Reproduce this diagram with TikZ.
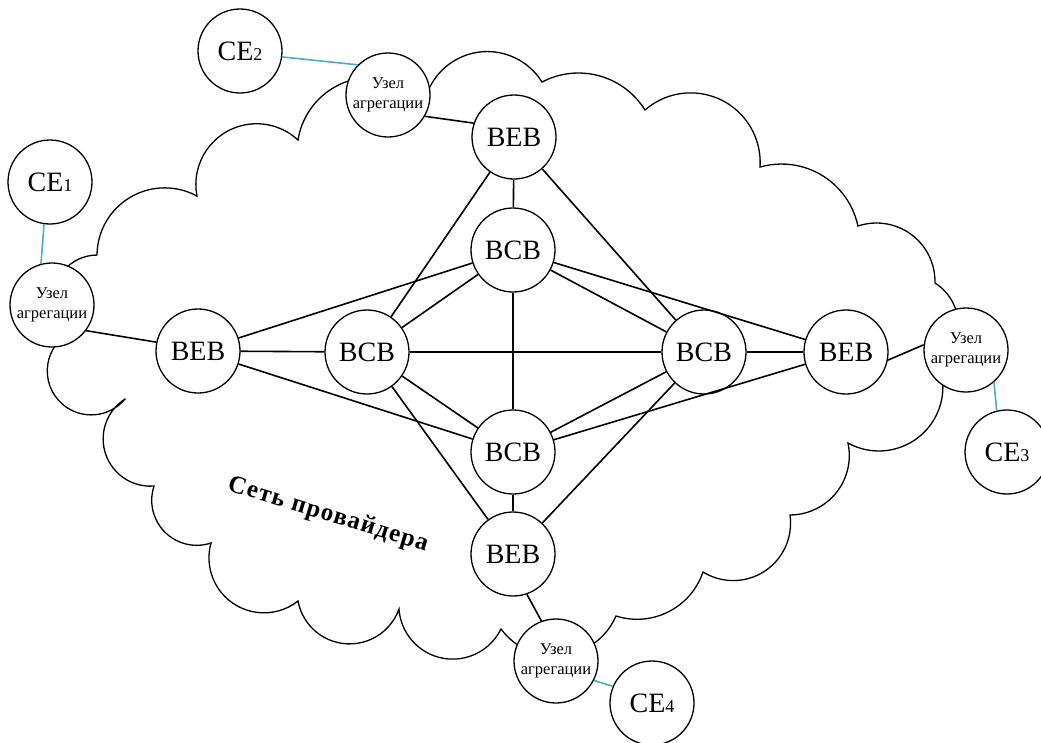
\documentclass[tikz,border=0pt]{standalone}
\usepackage{fontspec}
\setmainfont{Liberation Serif}
\usetikzlibrary{calc}
\definecolor{linkblue}{RGB}{75,172,198}

% one cloud lobe: circular arc from #1 to #2 sweeping #3 degrees, bulging outward
\newcommand\lobe[3]{%
  let \p1=(#1), \p2=(#2),
      \n1={atan2(\y2-\y1,\x2-\x1)},
      \n2={veclen(\x2-\x1,\y2-\y1)/(2*sin(#3/2))}
  in arc[start angle=\n1+90+#3/2, delta angle=-#3, radius=\n2]}

\tikzset{
  net/.style={circle, draw, fill=white, minimum size=84pt, inner sep=0pt,
              line width=1.3pt, font=\fontsize{28}{32}\selectfont},
  agg/.style={net, align=center, font=\fontsize{16.5}{20.5}\selectfont},
  link/.style={line width=1.6pt},
  uplink/.style={line width=1.6pt, draw=linkblue},
  cloudline/.style={line width=1.3pt, line join=miter},
}
\newcommand\cesub[1]{{\fontsize{18}{20}\selectfont #1}}

\begin{document}
\begin{tikzpicture}[x=1pt, y=1pt]
\useasboundingbox (0,0) rectangle (1041,-742);

% cusps of the provider cloud, clockwise
\coordinate (c1)  at (125,-399);
\coordinate (c2)  at (69,-333);
\coordinate (c3)  at (97,-255);
\coordinate (c4)  at (197,-196);
\coordinate (c5)  at (298,-140);
\coordinate (c6)  at (425,-100);
\coordinate (c7)  at (542,-82);
\coordinate (c8)  at (645,-110);
\coordinate (c9)  at (760,-167);
\coordinate (c10) at (858,-226);
\coordinate (c11) at (935,-283);
\coordinate (c12) at (939,-365);
\coordinate (c13) at (848,-443);
\coordinate (c14) at (790,-515);
\coordinate (c15) at (703,-572);
\coordinate (c16) at (616,-616);
\coordinate (c17) at (501,-629);
\coordinate (c18) at (399,-609);
\coordinate (c19) at (298,-601);
\coordinate (c20) at (211,-543);
\coordinate (c21) at (154,-486);

\draw[cloudline] (c1)
  \lobe{c1}{c2}{200}   \lobe{c2}{c3}{140}   \lobe{c3}{c4}{118}
  \lobe{c4}{c5}{144}   \lobe{c5}{c6}{127}   \lobe{c6}{c7}{134}
  \lobe{c7}{c8}{86}    \lobe{c8}{c9}{135}   \lobe{c9}{c10}{94}
  \lobe{c10}{c11}{110} \lobe{c11}{c12}{110} \lobe{c12}{c13}{139}
  \lobe{c13}{c14}{102} \lobe{c14}{c15}{130} \lobe{c15}{c16}{89}
  \lobe{c16}{c17}{120} \lobe{c17}{c18}{150} \lobe{c18}{c19}{150}
  \lobe{c19}{c20}{144} \lobe{c20}{c21}{127} \lobe{c21}{c1}{152}
  -- cycle;

\node[rotate=-17, font=\bfseries\fontsize{25}{28}\selectfont\addfontfeatures{LetterSpace=5}]
  (title) at (328,-515) {Сеть провайдера};

% core switches
\node[net] (bebT) at (514,-137) {BEB};
\node[net] (bcbT) at (513,-250) {BCB};
\node[net] (bebL) at (198,-351) {BEB};
\node[net] (bcbL) at (367,-352) {BCB};
\node[net] (bcbR) at (704,-352) {BCB};
\node[net] (bebR) at (846,-352) {BEB};
\node[net] (bcbB) at (513,-452) {BCB};
\node[net] (bebB) at (513,-554) {BEB};

% aggregation nodes
\node[agg] (aggL) at (52,-305)  {Узел\\агрегации};
\node[agg] (aggT) at (388,-95)  {Узел\\агрегации};
\node[agg] (aggR) at (966,-350) {Узел\\агрегации};
\node[agg] (aggB) at (556,-661) {Узел\\агрегации};

% customer edges
\node[net] (ce1) at (50,-182)   {CE\cesub{1}};
\node[net] (ce2) at (240,-51)   {CE\cesub{2}};
\node[net] (ce3) at (1007,-452) {CE\cesub{3}};
\node[net] (ce4) at (652,-703)  {CE\cesub{4}};

% core mesh
\draw[link] (bebT) -- (bcbT);
\draw[link] (bebT) -- (bcbL);
\draw[link] (bebT) -- (bcbR);
\draw[link] (bcbT) -- (bebL);
\draw[link] (bcbT) -- (bcbL);
\draw[link] (bcbT) -- (bcbR);
\draw[link] (bcbT) -- (bebR);
\draw[link] (bcbT) -- (bcbB);
\draw[link] (bebL) -- (bcbL);
\draw[link] (bebL) -- (bcbB);
\draw[link] (bcbL) -- (bcbR);
\draw[link] (bcbL) -- (bcbB);
\draw[link] (bcbL) -- (bebB);
\draw[link] (bcbR) -- (bebR);
\draw[link] (bcbR) -- (bcbB);
\draw[link] (bcbR) -- (bebB);
\draw[link] (bebR) -- (bcbB);
\draw[link] (bcbB) -- (bebB);

% edge switches to aggregation
\draw[link] (aggT.-30) -- (bebT.161);
\draw[link] (aggL.-37) -- (bebL.168);
\draw[link] (bebR.-11) -- (aggR.173);
\draw[link] (bebB.-71) -- (aggB.110);

% customer uplinks
\draw[uplink] (ce1.-98)  -- (aggL.105);
\draw[uplink] (ce2.-8)   -- (aggT.135);
\draw[uplink] (aggR.-49) -- (ce3.104);
\draw[uplink] (aggB.-27) -- (ce4.157);
\end{tikzpicture}
\end{document}
